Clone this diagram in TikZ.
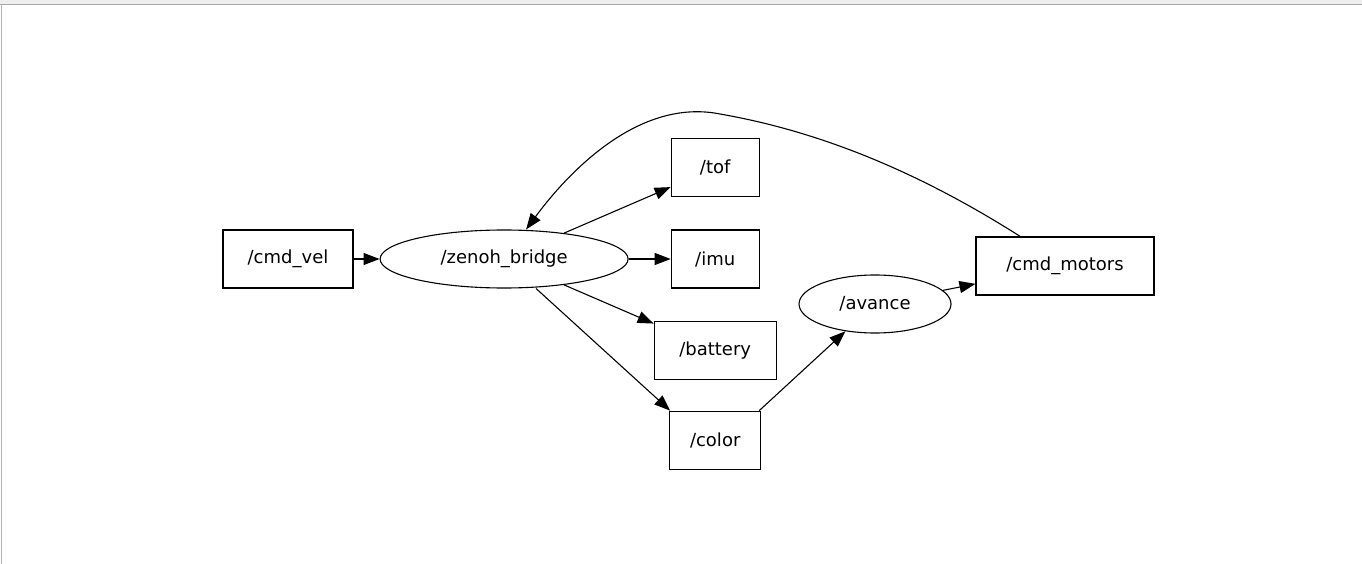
\documentclass[tikz,border=0pt]{standalone}
\usepackage{fontspec}
\setmainfont{DejaVu Sans}
\usetikzlibrary{positioning, shapes.geometric, arrows.meta, calc}

\begin{document}
\begin{tikzpicture}[
    x=1pt, y=1pt,
    >={Triangle[length=16pt, width=12pt]},
    line width=1.1pt,
    node distance=32pt and 42pt,
    arrow/.style={
        ->,
        line width=1.1pt
    },
    topic/.style={
        rectangle,
        draw,
        line width=1.1pt,
        minimum height=58pt,
        inner sep=0pt,
        font=\fontsize{18}{22}\selectfont
    },
    rosnode/.style={
        ellipse,
        draw,
        line width=1.1pt,
        minimum height=58pt,
        inner sep=0pt,
        font=\fontsize{18}{22}\selectfont
    }
]

    % frame
    \useasboundingbox (0,0) rectangle (1362,-564);
    \fill[black!7] (0,0) rectangle (1362,-4);
    \draw[black!35, line width=1.2pt] (0,-4.5) -- (1362,-4.5);
    \draw[black!30, line width=1.2pt] (1.5,-4.5) -- (1.5,-564);

    % Input
    \node[topic, minimum width=130pt] (cmdvel) at (288,-259) {/cmd\_vel};

    % Bridge
    \node[rosnode, minimum width=248pt, right=26pt of cmdvel] (zenoh) {/zenoh\_bridge};
    \draw[arrow] (cmdvel) -- (zenoh);

    % Topics out of the bridge
    \node[topic, minimum width=88pt, right=of zenoh] (imu) {/imu};
    \node[topic, minimum width=88pt, above=of imu] (tof) {/tof};
    \node[topic, minimum width=122pt, below=of imu] (battery) {/battery};
    \node[topic, minimum width=91pt, below=31pt of battery] (color) {/color};
    \draw[arrow] (zenoh) -- (tof);
    \draw[arrow] (zenoh) -- (imu);
    \draw[arrow] (zenoh) -- (battery);
    \draw[arrow] ([xshift=32pt]zenoh.south) -- ([xshift=-45pt]color.north);

    % Controller
    \node[rosnode, minimum width=152pt] (avance) at (875,-304) {/avance};
    \draw[arrow] ([xshift=44pt]color.north) -- (avance);

    % Motors
    \node[topic, minimum width=178pt] (motors) at (1065,-266) {/cmd\_motors};
    \draw[arrow] (avance) -- (motors);

    % Feedback to the bridge
    \coordinate (fb) at ($(motors.north west)!0.25!(motors.north east)$);
    \draw[arrow] (fb) .. controls (900,-160) and (800,-128) .. (720,-114)
        .. controls (640,-98) and (570,-170) .. ([xshift=22pt]zenoh.north);

\end{tikzpicture}
\end{document}
